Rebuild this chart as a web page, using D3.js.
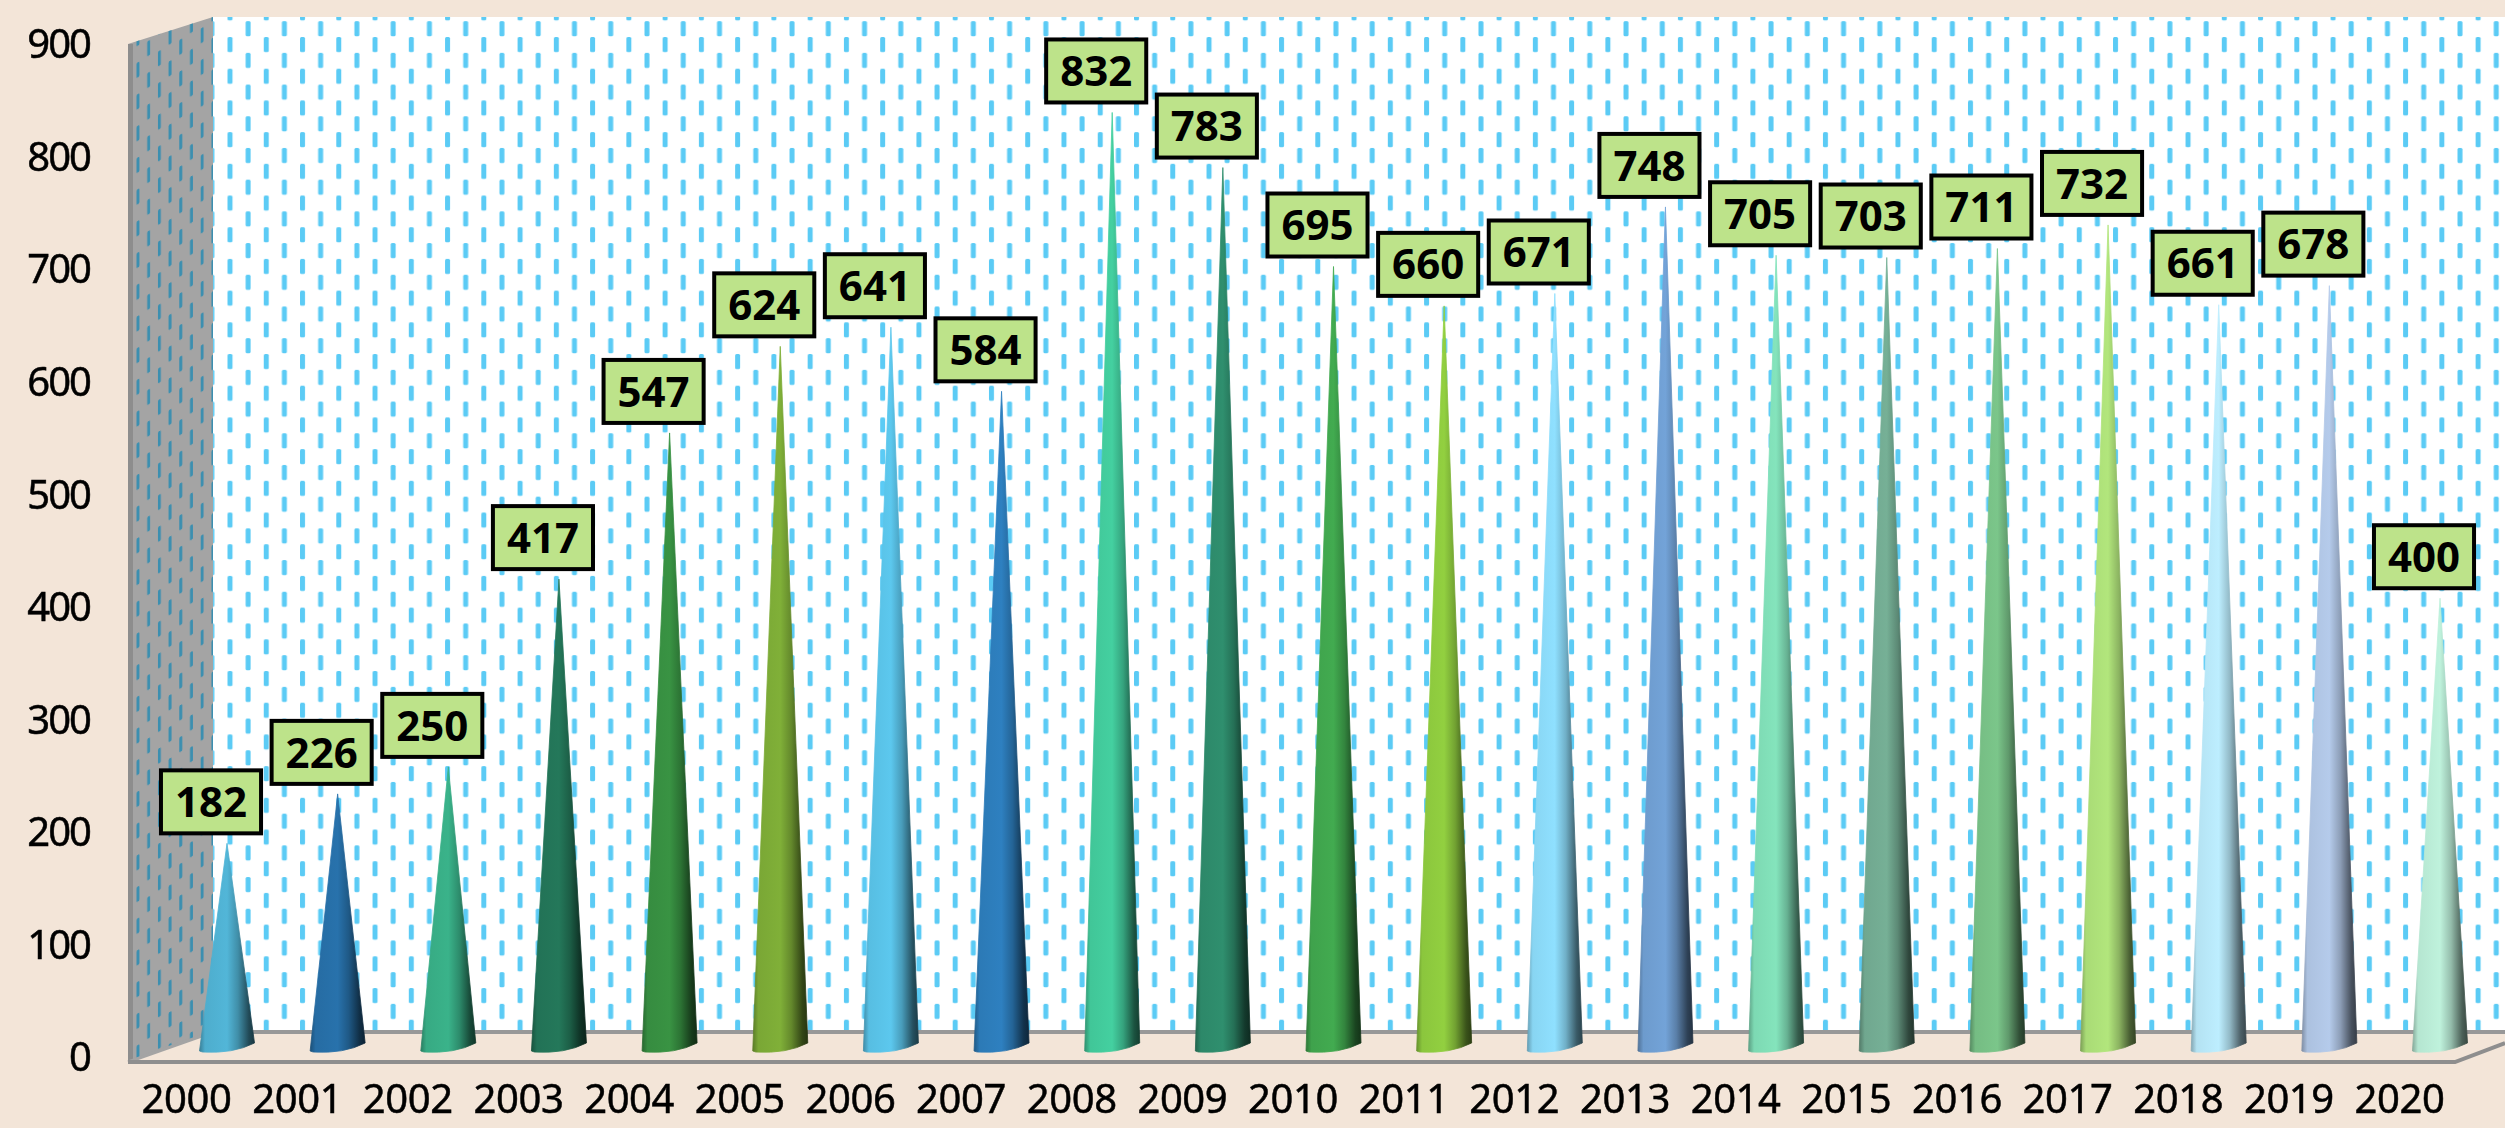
<!DOCTYPE html>
<html>
<head>
<meta charset="utf-8">
<script src="https://cdn.jsdelivr.net/npm/d3@7/dist/d3.min.js"></script>
<style>
  html, body { margin: 0; padding: 0; background: #f3e5d8; }
  svg { display: block; filter: blur(0.6px); }
  text { font-family: "Noto Sans", "Open Sans", sans-serif; fill: #000; }
  .axis text { font-size: 40px; stroke: #000; stroke-width: 0.5px; }
  .y.axis text { letter-spacing: -2px; }
  .x.axis text { letter-spacing: -0.4px; }
  .value-label text { font-size: 42px; font-weight: 700; }
</style>
</head>
<body>
<div id="chart"></div>
<script>
// Data
const years = ["2000", "2001", "2002", "2003", "2004", "2005", "2006", "2007", "2008", "2009", "2010",
  "2011", "2012", "2013", "2014", "2015", "2016", "2017", "2018", "2019", "2020"];
const counts = [182, 226, 250, 417, 547, 624, 641, 584, 832, 783, 695, 660, 671, 748, 705, 703, 711, 732, 661, 678, 400];
const coneColors = ["#52b6d8", "#2872ac", "#3ab38a", "#24785a", "#399343", "#80b038", "#5cc8ee", "#2e80c0",
  "#44d0a0", "#2f8f6e", "#42ab50", "#92d040", "#8fe0ff", "#73a3d8", "#84e4bc", "#76b096", "#7bc68a", "#b2e67c",
  "#bdeeff", "#b5cbeb", "#bff2dc"];
const yTicks = [0, 100, 200, 300, 400, 500, 600, 700, 800, 900];

// Dimensions
const width = 2505;
const height = 1128;
const wall = { left: 128, right: 213, topFront: 44, topBack: 17, bottomFront: 1062, bottomBack: 1032 };
const floorEnd = { x: 2455 };
const coneHalfWidth = 27.5;

const svg = d3.select("#chart").append("svg")
  .attr("width", width)
  .attr("height", height);
const defs = svg.append("defs");

// Define scales
const x = d3.scalePoint().domain(years).range([227, 2440]);
const y = d3.scaleLinear().domain([0, 900]).range([1048, 36]);
const yLabels = d3.scaleLinear().domain([0, 900]).range([1058, 45]);

// Dashed wall pattern, the side wall uses the same cell sheared
const addDashes = (id, color, transform) => {
  const p = defs.append("pattern")
    .attr("id", id)
    .attr("patternUnits", "userSpaceOnUse")
    .attr("width", 36.26)
    .attr("height", 31.7)
    .attr("patternTransform", transform);
  [[0, 0], [18.13, 15.85]].forEach(d => {
    p.append("rect")
      .attr("x", d[0])
      .attr("y", d[1])
      .attr("width", 5)
      .attr("height", 15)
      .attr("rx", 1.5)
      .attr("fill", color);
  });
};
addDashes("back-dash", "#5bcbf5", "translate(227.5,37)");
addDashes("side-dash", "#3c8fb0", "matrix(0.59,-0.318,0,1,136.5,63)");

// One horizontal shading per cone
coneColors.forEach((c, i) => {
  const shade = d3.interpolateRgb(c, "#000");
  const g = defs.append("linearGradient").attr("id", "cone-" + i);
  [[0, 0.3], [0.1, 0.05], [0.5, 0], [0.7, 0.22], [0.9, 0.6], [1, 0.7]].forEach(s => {
    g.append("stop")
      .attr("offset", s[0])
      .attr("stop-color", shade(s[1]));
  });
});

// Back wall
svg.append("rect")
  .attr("x", wall.right)
  .attr("y", wall.topBack)
  .attr("width", width - wall.right)
  .attr("height", wall.bottomBack - wall.topBack)
  .attr("fill", "#fff");
svg.append("rect")
  .attr("x", wall.right)
  .attr("y", wall.topBack)
  .attr("width", width - wall.right)
  .attr("height", wall.bottomBack - wall.topBack)
  .attr("fill", "url(#back-dash)");

// Side wall
const sidePts = [[wall.left, wall.topFront], [wall.right, wall.topBack], [wall.right, wall.bottomBack],
  [wall.left, wall.bottomFront]];
svg.append("polygon")
  .attr("points", sidePts.join(" "))
  .attr("fill", "#a4a4a4");
svg.append("polygon")
  .attr("points", sidePts.join(" "))
  .attr("fill", "url(#side-dash)");
svg.append("rect")
  .attr("x", wall.left)
  .attr("y", wall.topFront)
  .attr("width", 5)
  .attr("height", wall.bottomFront - wall.topFront)
  .attr("fill", "#8d8d8d");

// Floor edges
svg.append("path")
  .attr("d", `M${wall.right},${wall.bottomBack}H${width}`)
  .attr("stroke", "#989898")
  .attr("stroke-width", 4)
  .attr("fill", "none");
svg.append("path")
  .attr("d", `M${wall.left},${wall.bottomFront}L${wall.right},${wall.bottomBack}`)
  .attr("stroke", "#a4a4a4")
  .attr("stroke-width", 3)
  .attr("fill", "none");
svg.append("path")
  .attr("d", `M${wall.left},${wall.bottomFront}H${floorEnd.x}L${width},${wall.bottomFront - 19}`)
  .attr("stroke", "#8e8e8e")
  .attr("stroke-width", 4)
  .attr("fill", "none");

// Cones, the centre of the base ellipse sits on y(0)
const conePath = (year, value) => {
  const p = d3.path();
  const cx = x(year);
  const base = y(0);
  p.moveTo(cx - coneHalfWidth, base + 3);
  p.lineTo(cx, y(value));
  p.lineTo(cx + coneHalfWidth, base - 5);
  p.quadraticCurveTo(cx + 6, base + 6, cx - coneHalfWidth + 3, base + 4);
  p.closePath();
  return p.toString();
};
svg.append("g")
  .selectAll("path")
  .data(years)
  .enter()
  .append("path")
  .attr("d", (d, i) => conePath(d, counts[i]))
  .attr("fill", (d, i) => `url(#cone-${i})`)
  .attr("stroke", (d, i) => `url(#cone-${i})`)
  .attr("stroke-width", 0.8);

// Axes
const xAxis = d3.axisBottom(x).tickSize(0).tickPadding(0);
svg.append("g")
  .attr("class", "x axis")
  .attr("transform", "translate(-41,1080)")
  .call(xAxis)
  .call(g => g.select(".domain").remove())
  .selectAll("text")
  .attr("dy", "0.82em")
  .attr("font-size", null)
  .attr("font-family", null);

const yAxis = d3.axisLeft(yLabels).tickValues(yTicks).tickSize(0).tickPadding(0);
svg.append("g")
  .attr("class", "y axis")
  .attr("transform", "translate(90,0)")
  .call(yAxis)
  .call(g => g.select(".domain").remove())
  .selectAll("text")
  .attr("font-size", null)
  .attr("font-family", null);

// Value labels, the box is fitted to the text and sits above the tip
const boxHeight = 63;
const labelGap = 10;
const labelShift = -16;
const labels = svg.append("g")
  .selectAll("g")
  .data(years)
  .enter()
  .append("g")
  .attr("class", "value-label")
  .attr("transform", (d, i) => `translate(${x(d) + labelShift},${y(counts[i]) - labelGap - boxHeight / 2})`);
labels.append("rect");
labels.append("text")
  .attr("text-anchor", "middle")
  .attr("dy", "0.36em")
  .text((d, i) => counts[i]);
labels.each(function() {
  const g = d3.select(this);
  const w = g.select("text").node().getComputedTextLength() + 28;
  g.select("rect")
    .attr("x", -w / 2)
    .attr("y", -boxHeight / 2)
    .attr("width", w)
    .attr("height", boxHeight)
    .attr("fill", "#bde38a")
    .attr("stroke", "#000")
    .attr("stroke-width", 4);
});
</script>
</body>
</html>
